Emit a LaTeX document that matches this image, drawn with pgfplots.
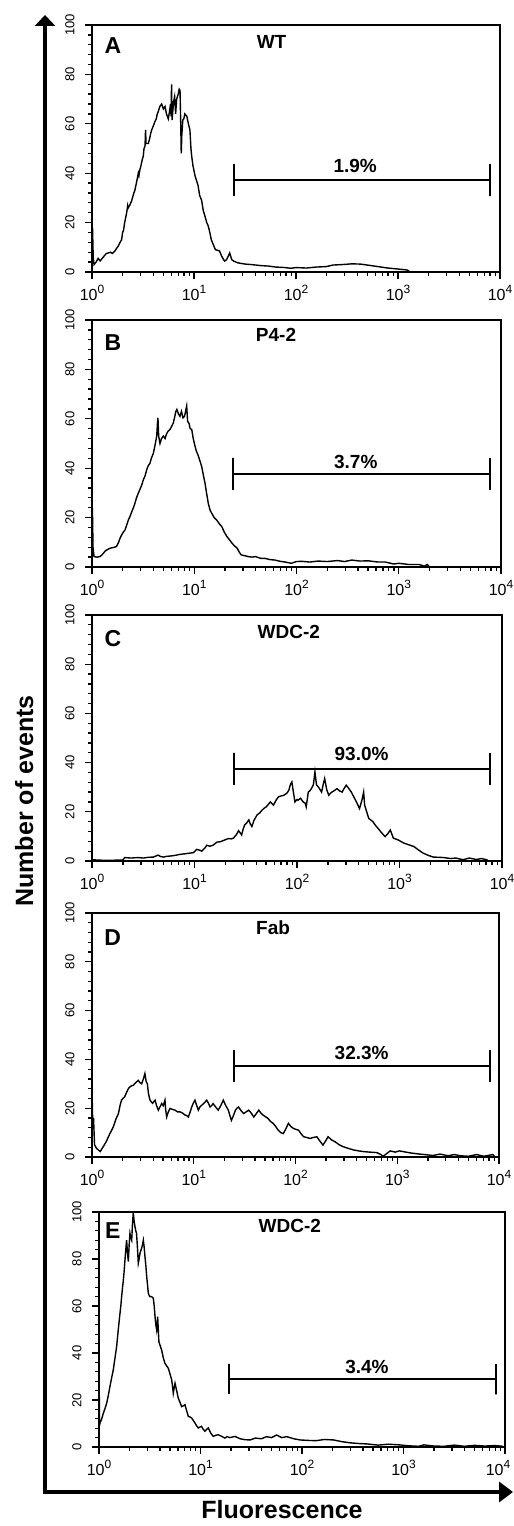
\documentclass[border=0pt]{standalone}
\usepackage{pgfplots}
\pgfplotsset{compat=1.18}
\usepackage{fontspec}
\setmainfont{Liberation Sans}
\usetikzlibrary{arrows.meta}

\newcommand{\dec}[1]{10\raisebox{6.5pt}{\fontsize{12}{12}\selectfont #1}}
\newcommand{\bigf}{\bfseries\fontsize{23}{23}\selectfont}
\newcommand{\midf}{\bfseries\fontsize{19}{19}\selectfont}

% x axis in decades (log10 of fluorescence), labelled 10^0 ... 10^4
\pgfplotsset{panel/.style={
    scale only axis, width=408pt, height=247pt,
    xmin=0, xmax=4, ymin=0, ymax=100,
    axis line style={line width=2.3pt},
    tick pos=left, tick align=outside,
    major tick length=7pt, minor tick length=4pt,
    every tick/.style={black, line width=1.3pt},
    xtick={0,1,2,3,4},
    xticklabels={\dec{0},\dec{1},\dec{2},\dec{3},\dec{4}},
    minor xtick={0.301,0.477,0.602,0.699,0.778,0.845,0.903,0.954,
                 1.301,1.477,1.602,1.699,1.778,1.845,1.903,1.954,
                 2.301,2.477,2.602,2.699,2.778,2.845,2.903,2.954,
                 3.301,3.477,3.602,3.699,3.778,3.845,3.903,3.954},
    ytick={0,20,40,60,80,100}, minor y tick num=4,
    /pgf/number format/assume math mode=true,
    xticklabel shift=3pt, yticklabel shift=7pt,
    x tick label style={font=\fontsize{16}{16}\selectfont},
    y tick label style={rotate=90, anchor=south, font=\fontsize{13}{13}\selectfont},
  },
  curve/.style={black, line width=1.4pt},
  gate/.style={black, line width=1.5pt},
}

\begin{document}
\begin{tikzpicture}[x=1pt,y=1pt]
\useasboundingbox (0,0) rectangle (514,1526);

% panel A
\begin{axis}[panel, at={(92pt,1254pt)}, anchor=south west]
\addplot[curve] table {
0.000 0
0.005 18
0.012 6
0.02 3
0.04 4
0.06 5.5
0.08 4.5
0.10 5.5
0.12 6.5
0.14 7.5
0.16 7.7
0.18 8.0
0.20 7.5
0.225 8.5
0.24 9.5
0.258 10.5
0.275 12
0.29 13
0.30 16
0.31 17
0.32 20
0.33 22
0.34 24
0.35 27
0.356 26
0.37 27
0.39 29
0.40 30.5
0.41 32
0.42 33
0.43 35
0.44 37
0.454 40
0.46 39
0.47 41.5
0.48 43
0.49 45
0.503 47
0.51 50
0.52 51
0.525 57.5
0.53 52
0.552 52
0.565 54
0.575 56
0.585 57.5
0.60 59
0.618 61
0.63 62
0.64 64
0.65 65
0.665 67
0.683 68
0.70 66
0.716 67
0.73 64
0.748 62
0.76 65
0.77 68
0.775 63
0.78 76
0.785 61.5
0.80 69
0.81 71
0.82 64
0.83 70
0.845 72
0.855 74
0.863 73.5
0.87 60
0.875 48
0.88 55
0.89 61.5
0.90 62
0.91 64
0.93 63
0.945 60
0.96 57.5
0.97 50
0.977 47
0.99 43
1.01 39
1.025 37
1.04 35
1.055 31
1.075 29
1.09 25
1.108 22.5
1.125 20
1.14 18.6
1.155 16
1.17 13
1.19 11
1.21 9
1.23 8.8
1.25 8.5
1.27 6.5
1.29 5
1.30 4.4
1.32 5
1.35 7.7
1.37 5
1.39 4.4
1.43 3.7
1.50 3.2
1.565 3
1.65 2.6
1.73 2.4
1.80 2.0
1.89 1.8
1.95 1.5
2.0 1.8
2.1 1.6
2.2 2.0
2.3 2.2
2.36 2.8
2.45 3.0
2.55 3.3
2.63 3.2
2.7 2.8
2.8 2.2
2.9 1.6
3.0 1.2
3.09 0.8
3.12 0
};
\addplot[gate] coordinates {(1.392,30.7)(1.392,43.7)(1.392,37.2)(3.902,37.2)(3.902,30.7)(3.902,43.7)};
\node[font=\midf] at (axis cs:2.58,43) {1.9\%};
\node[font=\bigf] at (rel axis cs:0.051,0.915) {A};
\node[font=\midf] at (rel axis cs:0.44,0.93) {WT};
\end{axis}

% panel B
\begin{axis}[panel, width=409pt, at={(92pt,959pt)}, anchor=south west]
\addplot[curve] table {
0.000 0
0.004 24
0.010 8
0.02 4.2
0.05 4.0
0.078 4.2
0.10 5.0
0.13 6.5
0.15 7.0
0.176 7.6
0.20 7.8
0.22 8.0
0.24 8.3
0.26 10
0.274 11.6
0.29 13
0.305 14
0.323 15
0.34 17
0.355 19
0.372 20.5
0.39 22.5
0.405 24
0.42 25.8
0.435 28
0.453 29.9
0.47 31.5
0.485 33
0.502 35.3
0.52 37
0.535 39.4
0.55 41
0.567 42
0.58 44
0.60 46
0.615 49
0.633 53
0.64 58
0.645 60.4
0.652 53
0.665 50
0.68 52
0.698 53
0.715 52
0.73 54
0.745 55
0.763 55.7
0.78 57
0.796 58.4
0.81 61
0.82 63
0.83 63.8
0.845 62
0.86 61
0.875 63
0.89 60.4
0.905 61
0.915 63
0.926 65.2
0.935 59
0.95 58
0.96 56
0.975 55.7
0.99 52
1.007 49
1.02 47
1.04 45
1.055 43
1.072 40.8
1.09 37
1.105 34
1.12 30
1.137 25.8
1.155 23
1.17 21.8
1.195 20
1.22 19
1.245 17.5
1.27 16.3
1.295 14
1.32 12.3
1.345 11
1.37 9.6
1.395 8.5
1.42 7.6
1.44 6
1.46 4.9
1.5 4.5
1.53 4.2
1.565 4.0
1.60 4.2
1.65 3.5
1.69 3.5
1.74 3.0
1.79 2.8
1.84 2.3
1.89 2.0
1.95 1.5
2.00 2.2
2.05 2.3
2.13 2.0
2.21 2.4
2.30 2.2
2.40 2.6
2.47 2.2
2.54 2.8
2.62 2.4
2.70 2.5
2.80 2.0
2.87 2.0
2.95 1.2
3.0 1.5
3.1 1.0
3.2 1.0
3.25 0.3
3.28 1.0
3.3 0
};
\addplot[gate] coordinates {(1.379,31.2)(1.379,44.2)(1.379,37.7)(3.892,37.7)(3.892,31.2)(3.892,44.2)};
\node[font=\midf] at (axis cs:2.58,42.5) {3.7\%};
\node[font=\bigf] at (rel axis cs:0.051,0.907) {B};
\node[font=\midf] at (rel axis cs:0.45,0.94) {P4-2};
\end{axis}

% panel C
\begin{axis}[panel, width=410pt, height=246pt, at={(92pt,665pt)}, anchor=south west]
\addplot[curve] table {
0.00 0.5
0.10 0.3
0.20 0.3
0.30 0.4
0.32 1.4
0.38 1.2
0.45 1.4
0.50 1.2
0.55 1.5
0.60 1.6
0.645 2.4
0.67 1.8
0.70 1.6
0.73 1.9
0.76 2.0
0.80 2.2
0.86 2.7
0.92 3.0
0.99 3.4
1.02 4.7
1.05 4.4
1.07 4.0
1.10 5.2
1.12 6.4
1.15 6.0
1.18 6.4
1.20 7.0
1.22 7.7
1.25 7.8
1.28 8.3
1.31 8.8
1.33 9.1
1.36 9.0
1.38 9.3
1.41 10.8
1.43 12.3
1.445 11.5
1.46 10.6
1.475 13
1.49 14.7
1.51 15.5
1.53 16.7
1.545 15
1.56 14
1.58 16.5
1.61 18.7
1.635 19.5
1.66 20.7
1.68 21.5
1.70 22
1.72 23
1.74 24
1.77 22.7
1.80 25
1.82 26.1
1.85 26.5
1.87 26.7
1.90 27.5
1.92 28.7
1.935 31
1.95 32.1
1.965 28
1.98 24
2.00 25
2.01 24.7
2.035 25.5
2.06 24
2.08 23.5
2.09 22
2.11 28
2.125 28.5
2.14 29.4
2.16 31
2.175 36.2
2.19 31
2.21 30
2.225 29
2.24 28
2.255 31
2.27 33.5
2.29 29
2.31 26.7
2.325 27.5
2.34 28
2.36 28.5
2.39 29.4
2.415 28.5
2.44 28
2.46 29.5
2.48 30.8
2.505 29.5
2.53 28
2.555 26
2.58 24
2.61 21.3
2.635 25
2.65 28
2.66 22.7
2.68 20
2.70 17.3
2.74 16
2.765 14.5
2.79 13.3
2.825 11.5
2.86 9.9
2.885 11
2.91 12.6
2.94 9.3
2.99 8.5
3.04 7.3
3.09 6.6
3.14 5.9
3.185 4.5
3.23 3.2
3.28 2.3
3.33 1.6
3.43 1.4
3.50 1.0
3.55 1.2
3.62 0.5
3.68 1.2
3.75 0.6
3.80 1.0
3.86 0.4
};
\addplot[gate] coordinates {(1.385,30.9)(1.385,43.9)(1.385,37.4)(3.883,37.4)(3.883,30.9)(3.883,43.9)};
\node[font=\midf] at (axis cs:2.63,43.5) {93.0\%};
\node[font=\bigf] at (rel axis cs:0.051,0.906) {C};
\node[font=\midf] at (rel axis cs:0.48,0.93) {WDC-2};
\end{axis}

% panel D
\begin{axis}[panel, width=407pt, height=244pt, at={(92pt,369pt)}, anchor=south west]
\addplot[curve] table {
0.000 0
0.003 22
0.008 12
0.015 16
0.025 5
0.045 3.5
0.063 2.9
0.08 2.2
0.11 4.2
0.14 6.3
0.175 9.5
0.21 12.4
0.235 15.5
0.26 17.8
0.275 21
0.29 23.3
0.305 24
0.32 24.6
0.34 26.5
0.357 28
0.38 29
0.406 29.4
0.43 30.5
0.455 31.4
0.47 30.5
0.488 30
0.505 32
0.52 34.2
0.532 31
0.544 30
0.555 26
0.57 23.3
0.595 22
0.62 23.3
0.635 21
0.652 19.2
0.668 20.5
0.685 21.9
0.70 21
0.717 23.3
0.725 19
0.734 16.4
0.75 18.5
0.767 19.9
0.79 19.5
0.816 19.2
0.84 18.5
0.865 18.5
0.89 18
0.914 17.2
0.93 17
0.947 16.4
0.965 18.5
0.98 20.5
0.995 22
1.012 23.3
1.03 21
1.045 19.2
1.06 20.5
1.078 21.2
1.10 22
1.127 23.3
1.145 22
1.16 20.5
1.175 21
1.19 21.9
1.215 20.5
1.24 19.2
1.265 21
1.29 23.3
1.315 21
1.34 19.2
1.355 17
1.37 15
1.39 17
1.41 19.2
1.425 20
1.44 20.5
1.465 19
1.49 17.8
1.515 18.5
1.54 19.2
1.565 18
1.59 16.4
1.615 17.8
1.64 19.2
1.66 18
1.68 17.2
1.705 16.5
1.73 15.8
1.755 14.5
1.78 13.8
1.805 12.5
1.83 11
1.855 10
1.88 9.6
1.905 11.5
1.93 13.8
1.955 12.5
1.98 11.7
2.005 11.3
2.03 11
2.055 9.5
2.08 8.3
2.11 8
2.14 7.6
2.175 8
2.21 8.3
2.24 6.5
2.27 4.9
2.295 6.5
2.32 8.3
2.355 7
2.39 6.2
2.43 5
2.47 4.2
2.52 3.5
2.57 2.9
2.62 2.5
2.67 2.2
2.73 2.0
2.80 1.8
2.84 1.0
2.86 0.3
2.90 1.5
2.93 2.5
2.98 2.0
3.02 2.5
3.06 2.2
3.11 1.8
3.16 1.5
3.22 1.2
3.29 0.9
3.35 0.6
3.42 1.2
3.50 0.5
3.56 1.0
3.62 0.5
3.70 0.3
3.78 1.0
3.85 0.3
3.94 1.0
3.96 0
};
\addplot[gate] coordinates {(1.396,30.8)(1.396,43.8)(1.396,37.3)(3.91,37.3)(3.91,30.8)(3.91,43.8)};
\node[font=\midf] at (axis cs:2.65,42.6) {32.3\%};
\node[font=\bigf] at (rel axis cs:0.051,0.90) {D};
\node[font=\midf] at (rel axis cs:0.445,0.94) {Fab};
\end{axis}

% panel E (last tick label nudged left so it stays on the page)
\begin{axis}[panel, width=406pt, height=235pt, at={(99pt,79pt)}, anchor=south west,
    xticklabels={\dec{0},\dec{1},\dec{2},\dec{3},\hspace*{-14pt}\dec{4}}]
\addplot[curve] table {
0.000 55
0.004 9
0.010 10.2
0.027 12
0.043 14.4
0.06 16.5
0.076 18.7
0.092 22
0.108 25.8
0.125 29.5
0.141 32.9
0.158 38
0.174 42.8
0.19 50
0.207 57
0.215 60
0.223 64
0.232 68
0.24 71
0.248 75
0.256 79.6
0.264 84
0.272 88
0.28 83
0.289 78.9
0.297 86
0.305 90.9
0.314 89
0.322 88
0.33 95
0.338 100
0.346 96
0.355 93.7
0.362 92
0.37 90.9
0.38 84
0.387 78.2
0.395 80
0.404 82.5
0.412 83.5
0.42 84.6
0.428 86
0.437 88
0.445 85
0.453 81
0.462 77
0.47 72.5
0.478 69
0.486 65.5
0.494 64.5
0.502 64
0.518 64
0.535 63.3
0.544 60
0.552 55.5
0.56 52
0.568 49.8
0.573 52
0.578 55.5
0.584 50
0.59 44.8
0.60 43.5
0.617 41.3
0.633 38
0.65 35.6
0.667 34.5
0.683 33.5
0.70 31
0.716 28.6
0.724 26
0.732 22.9
0.74 25
0.749 27.1
0.765 24
0.781 20.8
0.798 19
0.814 17.2
0.83 17.5
0.847 18
0.863 15.5
0.88 13
0.896 12.8
0.913 12.3
0.93 11.2
0.946 10.2
0.962 9
0.979 8.1
0.995 8.5
1.01 8.8
1.027 7.5
1.044 6.7
1.06 7.5
1.077 8.1
1.10 6
1.126 4.5
1.15 5
1.176 5.2
1.21 4.5
1.24 3.8
1.26 4.4
1.29 4.0
1.34 4.5
1.39 3.5
1.44 3.1
1.49 3.0
1.54 3.8
1.60 3.5
1.65 4.4
1.70 4.0
1.75 5.1
1.80 4.0
1.85 4.4
1.92 3.5
1.98 3.0
2.06 2.8
2.14 2.7
2.22 3.2
2.31 3.0
2.39 2.3
2.47 1.8
2.55 1.5
2.64 1.3
2.75 0.8
2.85 1.2
2.96 0.9
3.05 0.5
3.15 0.3
3.2 0.9
3.3 0.4
3.4 0.3
3.5 0.8
3.6 0.3
3.7 0.7
3.8 0.4
3.9 0.6
3.98 0.3
};
\addplot[gate] coordinates {(1.281,22.4)(1.281,35.4)(1.281,28.9)(3.911,28.9)(3.911,22.4)(3.911,35.4)};
\node[font=\midf] at (axis cs:2.64,34) {3.4\%};
\node[font=\bigf] at (rel axis cs:0.034,0.923) {E};
\node[font=\midf] at (rel axis cs:0.47,0.94) {WDC-2};
\end{axis}

% shared arrows and axis titles
\draw[line width=4pt, -{Triangle[length=11pt,width=20pt]}] (45,32) -- (45,1511);
\draw[line width=4pt, -{Triangle[length=14pt,width=20pt]}] (43,34) -- (513,34);
\node[rotate=90, anchor=base, font=\bfseries\fontsize{25}{25}\selectfont] at (33,725) {Number of events};
\node[anchor=base, font=\bfseries\fontsize{25}{25}\selectfont] at (282,8) {Fluorescence};
\end{tikzpicture}
\end{document}
